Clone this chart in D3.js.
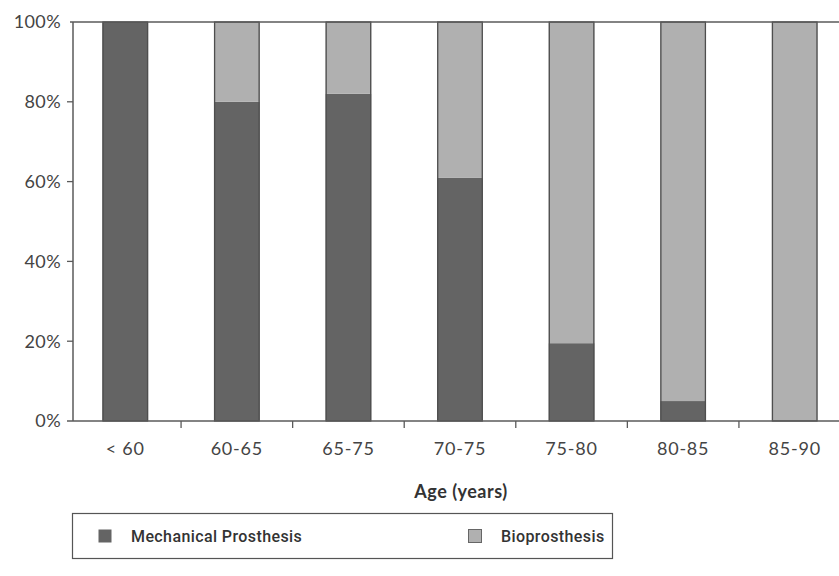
<!DOCTYPE html>
<html>
<head>
<meta charset="utf-8">
<script src="https://cdn.jsdelivr.net/npm/d3@7"></script>
<style>
  html, body { margin: 0; padding: 0; background: #fff; }
  svg { display: block; }
</style>
</head>
<body>
<svg id="chart" width="839" height="576"></svg>
<script>
// Valve type by age group (share of patients)
const categories = ["< 60", "60-65", "65-75", "70-75", "75-80", "80-85", "85-90"];
const mechanical = [1.00, 0.80, 0.82, 0.61, 0.195, 0.05, 0.00];
const bioprosthesis = mechanical.map(v => 1 - v);
const seriesNames = ["Mechanical Prosthesis", "Bioprosthesis"];
const yTicks = [0, 0.2, 0.4, 0.6, 0.8, 1.0];
const xTitle = "Age (years)";

const colors = { "Mechanical Prosthesis": "#646464", "Bioprosthesis": "#b0b0b0" };
const axisColor = "#5a5a5a";
const textColor = "#444";
const tickFont = "Lato, 'Open Sans', sans-serif";

const svg = d3.select("#chart");
const W = 839;

const y = d3.scaleLinear().domain([0, 1]).range([421, 22]);
const x = d3.scaleBand().domain(categories).range([69.5, 850.5])
  .paddingInner(0.59).paddingOuter(0.295);
const step = x.step();
const x0 = x.range()[0];

const rows = categories.map((c, i) => ({
  cat: c,
  "Mechanical Prosthesis": mechanical[i],
  "Bioprosthesis": bioprosthesis[i]
}));
const stacked = d3.stack().keys(seriesNames)(rows);

// stacked segments
const g = svg.append("g");
g.selectAll("g.series").data(stacked).join("g")
  .attr("class", "series")
  .attr("fill", d => colors[d.key])
  .selectAll("rect").data(d => d.filter(p => p[1] - p[0] > 0)).join("rect")
  .attr("x", d => x(d.data.cat))
  .attr("width", x.bandwidth())
  .attr("y", d => y(d[1]))
  .attr("height", d => y(d[0]) - y(d[1]));

// outline around each stacked column
g.selectAll("rect.outline").data(rows).join("rect")
  .attr("class", "outline")
  .attr("x", d => x(d.cat) + 0.6)
  .attr("width", x.bandwidth() - 1.2)
  .attr("y", y(1))
  .attr("height", y(0) - y(1))
  .attr("fill", "none")
  .attr("stroke", "#4e4e4e")
  .attr("stroke-width", 1.3);

// frame line at the top
svg.append("line")
  .attr("x1", 70).attr("x2", W)
  .attr("y1", y(1)).attr("y2", y(1))
  .attr("stroke", axisColor).attr("stroke-width", 1.5);

// y axis
const yAxisX = 73;
svg.append("line")
  .attr("x1", yAxisX).attr("x2", yAxisX)
  .attr("y1", y(1)).attr("y2", y(0))
  .attr("stroke", axisColor).attr("stroke-width", 1.5);
const yt = svg.append("g");
yt.selectAll("line").data(yTicks.filter(t => t > 0 && t < 1)).join("line")
  .attr("x1", yAxisX - 6).attr("x2", yAxisX)
  .attr("y1", d => y(d)).attr("y2", d => y(d))
  .attr("stroke", axisColor).attr("stroke-width", 1.3);
yt.selectAll("text").data(yTicks).join("text")
  .attr("x", 61)
  .attr("y", d => y(d))
  .attr("dy", "0.35em")
  .attr("text-anchor", "end")
  .attr("font-family", tickFont)
  .attr("font-size", 18)
  .attr("letter-spacing", 0.4)
  .attr("fill", textColor)
  .text(d3.format(".0%"));

// x axis
svg.append("line")
  .attr("x1", 67).attr("x2", W)
  .attr("y1", y(0)).attr("y2", y(0))
  .attr("stroke", axisColor).attr("stroke-width", 1.5);
const boundaries = d3.range(1, categories.length).map(i => x0 + i * step);
svg.append("g").selectAll("line").data(boundaries).join("line")
  .attr("x1", d => d).attr("x2", d => d)
  .attr("y1", y(0)).attr("y2", y(0) + 7)
  .attr("stroke", axisColor).attr("stroke-width", 1.3);
svg.append("g").selectAll("text").data(categories).join("text")
  .attr("x", d => x(d) + x.bandwidth() / 2)
  .attr("y", 449)
  .attr("dy", "0.35em")
  .attr("text-anchor", "middle")
  .attr("font-family", tickFont)
  .attr("font-size", 18)
  .attr("letter-spacing", 0.8)
  .attr("fill", textColor)
  .text(d => d);

svg.append("text")
  .attr("x", 461).attr("y", 492)
  .attr("dy", "0.35em")
  .attr("text-anchor", "middle")
  .attr("font-family", tickFont)
  .attr("font-weight", 700)
  .attr("font-size", 18)
  .attr("letter-spacing", 0.5)
  .attr("fill", "#333")
  .text(xTitle);

// legend
const legend = svg.append("g");
legend.append("rect")
  .attr("x", 72.5).attr("y", 513.5)
  .attr("width", 540).attr("height", 45)
  .attr("fill", "#fff").attr("stroke", "#555").attr("stroke-width", 1.2);
const legendX = [98, 468];
const items = legend.selectAll("g.item").data(seriesNames).join("g")
  .attr("class", "item")
  .attr("transform", (d, i) => `translate(${legendX[i]},536)`);
items.append("rect")
  .attr("x", 0.5).attr("y", -6.5)
  .attr("width", 13).attr("height", 13)
  .attr("fill", d => colors[d])
  .attr("stroke", d => d === "Bioprosthesis" ? "#666" : "none")
  .attr("stroke-width", 1);
items.append("text")
  .attr("x", 33).attr("y", 0)
  .attr("dy", "0.35em")
  .attr("font-family", "Roboto, sans-serif")
  .attr("font-weight", 500)
  .attr("font-size", 16)
  .attr("letter-spacing", 0.4)
  .attr("fill", "#333")
  .text(d => d);
</script>
</body>
</html>
